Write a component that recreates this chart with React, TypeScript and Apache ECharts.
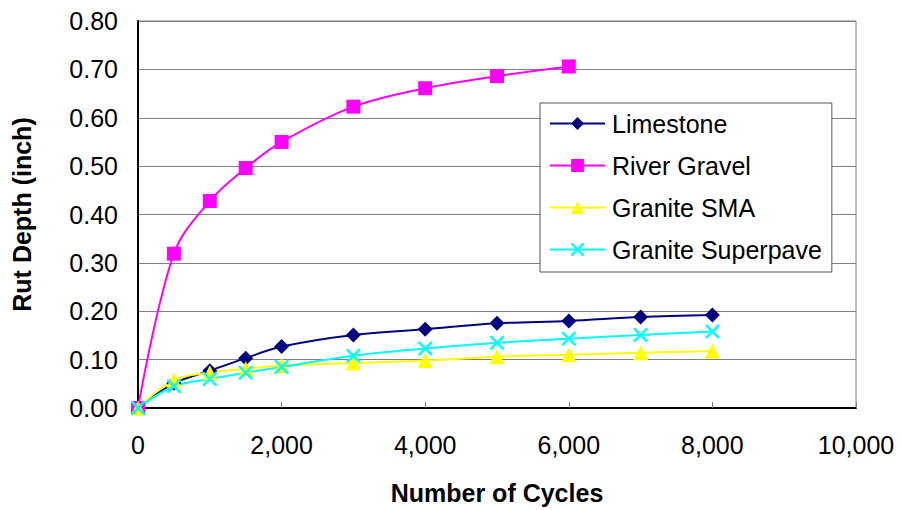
import React, { useEffect, useRef } from "react";
import * as echarts from "echarts";

// Number of load cycles at which rut depth was measured
const cycles = [0, 500, 1000, 1500, 2000, 3000, 4000, 5000, 6000, 7000, 8000];

// Rut depth (inch) per mixture
const limestone = [0, 0.051, 0.077, 0.103, 0.127, 0.151, 0.163, 0.175, 0.18, 0.188, 0.192];
const riverGravel = [0, 0.319, 0.428, 0.496, 0.55, 0.623, 0.661, 0.686, 0.706];
const graniteSMA = [0, 0.058, 0.073, 0.081, 0.088, 0.093, 0.098, 0.106, 0.11, 0.114, 0.118];
const graniteSuperpave = [0, 0.045, 0.06, 0.073, 0.085, 0.108, 0.123, 0.135, 0.143, 0.151, 0.158];

const seriesNames = ["Limestone", "River Gravel", "Granite SMA", "Granite Superpave"];

const xTicks = { min: 0, max: 10000, interval: 2000 };
const yTicks = { min: 0, max: 0.8, interval: 0.1 };

const crossSymbol =
  "path://M0,0 L2.5,0 L10,7.5 L17.5,0 L20,0 L20,2.5 L12.5,10 L20,17.5 L20,20 L17.5,20 L10,12.5 L2.5,20 L0,20 L0,17.5 L7.5,10 L0,2.5 Z";

const pair = (ys: number[]) => ys.map((y, i) => [cycles[i], y]);

export default function App() {
  const ref = useRef<HTMLDivElement>(null);

  useEffect(() => {
    if (!ref.current) return;
    const chart = echarts.init(ref.current, undefined, { renderer: "svg" });
    const font = "'Liberation Sans', Arial, Helvetica, sans-serif";

    const mk = (
      name: string,
      data: number[],
      color: string,
      symbol: string,
      symbolSize: number
    ) => ({
      name,
      type: "line",
      data: pair(data),
      smooth: 0.35,
      symbol,
      symbolSize,
      showAllSymbol: true,
      lineStyle: { color, width: 2 },
      itemStyle: { color, borderWidth: 0 },
      emphasis: { disabled: true },
    });

    chart.setOption({
      animation: false,
      backgroundColor: "#ffffff",
      textStyle: { fontFamily: font },
      grid: {
        left: 138,
        right: 45,
        top: 21,
        bottom: 100,
        show: true,
        borderColor: "#808080",
        borderWidth: 1,
        backgroundColor: "transparent",
      },
      legend: {
        orient: "vertical",
        left: 540,
        top: 103,
        data: seriesNames,
        backgroundColor: "#ffffff",
        borderColor: "#555555",
        borderWidth: 1,
        padding: [8, 10, 10, 9],
        itemWidth: 55,
        itemHeight: 16,
        itemGap: 17,
        textStyle: {
          fontFamily: font,
          fontSize: 25,
          color: "#000000",
          padding: [0, 0, 0, 2],
        },
      },
      xAxis: {
        type: "value",
        min: xTicks.min,
        max: xTicks.max,
        interval: xTicks.interval,
        name: "Number of Cycles",
        nameLocation: "middle",
        nameGap: 72,
        nameTextStyle: { fontFamily: font, fontSize: 25, fontWeight: "bold", color: "#000" },
        axisLine: { show: true, onZero: false, lineStyle: { color: "#000", width: 2 } },
        axisTick: { show: true, inside: true, length: 6, lineStyle: { color: "#808080", width: 1 } },
        axisLabel: {
          fontFamily: font,
          fontSize: 25,
          color: "#000",
          margin: 24,
          formatter: (v: number) => v.toLocaleString("en-US"),
        },
        splitLine: { show: false },
      },
      yAxis: {
        type: "value",
        min: yTicks.min,
        max: yTicks.max,
        interval: yTicks.interval,
        name: "Rut Depth (inch)",
        nameLocation: "middle",
        nameGap: 104,
        nameTextStyle: { fontFamily: font, fontSize: 25, fontWeight: "bold", color: "#000" },
        axisLine: { show: true, onZero: false, lineStyle: { color: "#000", width: 2 } },
        axisTick: { show: false },
        axisLabel: {
          fontFamily: font,
          fontSize: 25,
          color: "#000",
          margin: 20,
          formatter: (v: number) => v.toFixed(2),
        },
        splitLine: { show: true, lineStyle: { color: "#808080", width: 1 } },
      },
      series: [
        mk(seriesNames[0], limestone, "#000080", "diamond", 15),
        mk(seriesNames[1], riverGravel, "#FF00FF", "rect", 14),
        mk(seriesNames[2], graniteSMA, "#FFFF00", "triangle", 15),
        mk(seriesNames[3], graniteSuperpave, "#00FFFF", crossSymbol, 14),
      ],
    });

    return () => chart.dispose();
  }, []);

  return (
    <div
      ref={ref}
      style={{ position: "fixed", left: 0, top: 0, width: 901, height: 510, background: "#fff" }}
    />
  );
}
